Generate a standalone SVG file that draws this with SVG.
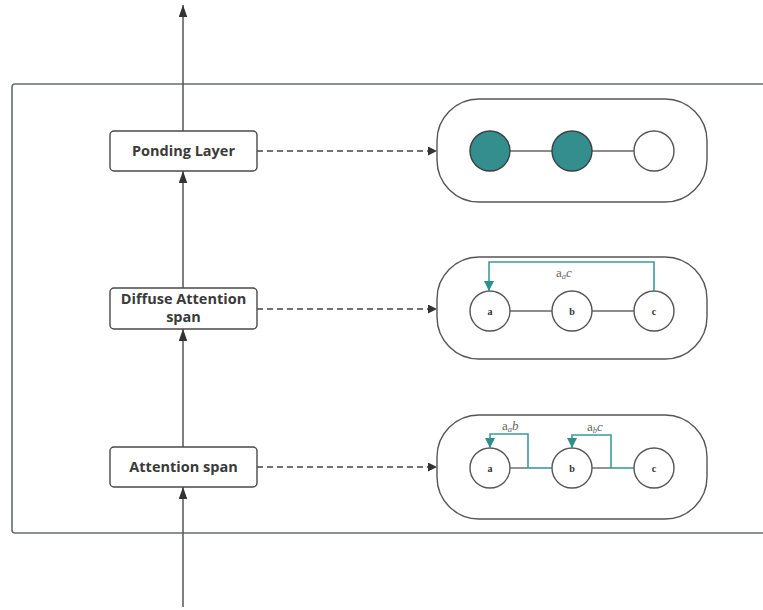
<svg xmlns="http://www.w3.org/2000/svg" width="763" height="610" viewBox="0 0 763 610">
  <style>
    .frame { fill: none; stroke: #6a6d70; stroke-width: 1.6; }
    .box { fill: #ffffff; stroke: #4a4a4a; stroke-width: 1.4; }
    .lbl { font-family: "Open Sans", "Noto Sans", sans-serif; font-weight: bold; font-size: 14.5px; fill: #3a3a3a; text-anchor: middle; }
    .flow { stroke: #555555; stroke-width: 1.5; fill: none; }
    .dash { stroke: #444444; stroke-width: 1.3; stroke-dasharray: 6 4; fill: none; }
    .pill { fill: #ffffff; stroke: #555555; stroke-width: 1.4; }
    .node { fill: #ffffff; stroke: #555555; stroke-width: 1.4; }
    .filled { fill: #348e8e; stroke: #3a3f40; stroke-width: 1.4; }
    .edge { stroke: #666666; stroke-width: 1.4; fill: none; }
    .teal { stroke: #3d9a9a; stroke-width: 1.6; fill: none; }
    .ntxt { font-family: "Liberation Serif", "DejaVu Serif", serif; font-weight: bold; font-size: 10px; fill: #333333; text-anchor: middle; }
    .wt { font-family: "Liberation Serif", "DejaVu Serif", serif; font-size: 13px; fill: #666666; }
  </style>
  <defs>
    <marker id="arr" viewBox="0 0 10 10" refX="10" refY="5" markerWidth="10" markerHeight="9" markerUnits="userSpaceOnUse" orient="auto">
      <path d="M0,0 L10,5 L0,10 z" fill="#333333"/>
    </marker>
    <marker id="arrUp" viewBox="0 0 14 10" refX="14" refY="5" markerWidth="12" markerHeight="9" markerUnits="userSpaceOnUse" orient="auto">
      <path d="M0,0 L14,5 L0,10 z" fill="#333333"/>
    </marker>
    <marker id="arrT" viewBox="0 0 10 10" refX="10" refY="5" markerWidth="12" markerHeight="10" markerUnits="userSpaceOnUse" orient="auto">
      <path d="M0,0 L10,5 L0,10 z" fill="#2f8f8f"/>
    </marker>
  </defs>

  <!-- outer frame -->
  <rect class="frame" x="12" y="84" width="780" height="449" rx="3"/>

  <!-- connectors -->
  <g id="connectors">
    <line class="flow" x1="183" y1="607" x2="183" y2="487" marker-end="url(#arrUp)"/>
    <line class="flow" x1="183" y1="447" x2="183" y2="329" marker-end="url(#arrUp)"/>
    <line class="flow" x1="183" y1="288" x2="183" y2="171" marker-end="url(#arrUp)"/>
    <line class="flow" x1="183" y1="131" x2="183" y2="5" marker-end="url(#arrUp)"/>
    <line class="dash" x1="257" y1="151" x2="437" y2="151" marker-end="url(#arr)"/>
    <line class="dash" x1="257" y1="309" x2="437" y2="309" marker-end="url(#arr)"/>
    <line class="dash" x1="257" y1="467" x2="437" y2="467" marker-end="url(#arr)"/>
  </g>

  <!-- left column -->
  <g id="ponding-layer">
    <rect class="box" x="110" y="131" width="147" height="40" rx="4"/>
    <text class="lbl" x="183.5" y="156">Ponding Layer</text>
  </g>
  <g id="diffuse-attention">
    <rect class="box" x="110" y="288" width="147" height="41" rx="4"/>
    <text class="lbl" x="183.5" y="304">Diffuse Attention</text>
    <text class="lbl" x="183.5" y="322">span</text>
  </g>
  <g id="attention-span">
    <rect class="box" x="110" y="447" width="147" height="40" rx="4"/>
    <text class="lbl" x="183.5" y="472">Attention span</text>
  </g>

  <!-- pooled nodes -->
  <g id="pool-group">
    <rect class="pill" x="437" y="99" width="270" height="103" rx="42"/>
    <line class="edge" x1="510" y1="151" x2="552" y2="151"/>
    <line class="edge" x1="592" y1="151" x2="634" y2="151"/>
    <circle class="filled" cx="490" cy="151" r="20"/>
    <circle class="filled" cx="572" cy="151" r="20"/>
    <circle class="node" cx="654" cy="151" r="20"/>
  </g>

  <!-- diffuse attention nodes -->
  <g id="diffuse-group">
    <rect class="pill" x="437" y="257" width="270" height="102" rx="42"/>
    <line class="edge" x1="510" y1="311" x2="552" y2="311"/>
    <line class="edge" x1="592" y1="311" x2="634" y2="311"/>
    <circle class="node" cx="490" cy="311" r="20"/>
    <circle class="node" cx="572" cy="311" r="20"/>
    <circle class="node" cx="654" cy="311" r="20"/>
    <text class="ntxt" x="490" y="315">a</text>
    <text class="ntxt" x="572" y="315">b</text>
    <text class="ntxt" x="654" y="315">c</text>
    <path class="teal" d="M654,291 V262 H489 V291" marker-end="url(#arrT)"/>
    <text class="wt" x="556" y="277">a<tspan font-size="8.5" font-style="italic" dy="2">a</tspan><tspan font-style="italic" dy="-2">c</tspan></text>
  </g>

  <!-- attention span nodes -->
  <g id="span-group">
    <rect class="pill" x="437" y="415" width="270" height="104" rx="42"/>
    <line class="edge" x1="510" y1="468" x2="528" y2="468"/>
    <line class="teal" x1="528" y1="468" x2="552" y2="468"/>
    <line class="edge" x1="592" y1="468" x2="611" y2="468"/>
    <line class="teal" x1="611" y1="468" x2="634" y2="468"/>
    <circle class="node" cx="490" cy="468" r="20"/>
    <circle class="node" cx="572" cy="468" r="20"/>
    <circle class="node" cx="654" cy="468" r="20"/>
    <text class="ntxt" x="490" y="472">a</text>
    <text class="ntxt" x="572" y="472">b</text>
    <text class="ntxt" x="654" y="472">c</text>
    <path class="teal" d="M528,468 V434 H490 V448" marker-end="url(#arrT)"/>
    <path class="teal" d="M611,468 V435 H572 V448" marker-end="url(#arrT)"/>
    <text class="wt" x="502" y="430">a<tspan font-size="8.5" font-style="italic" dy="2">a</tspan><tspan font-style="italic" dy="-2">b</tspan></text>
    <text class="wt" x="587" y="431">a<tspan font-size="8.5" font-style="italic" dy="2">b</tspan><tspan font-style="italic" dy="-2">c</tspan></text>
  </g>
</svg>
